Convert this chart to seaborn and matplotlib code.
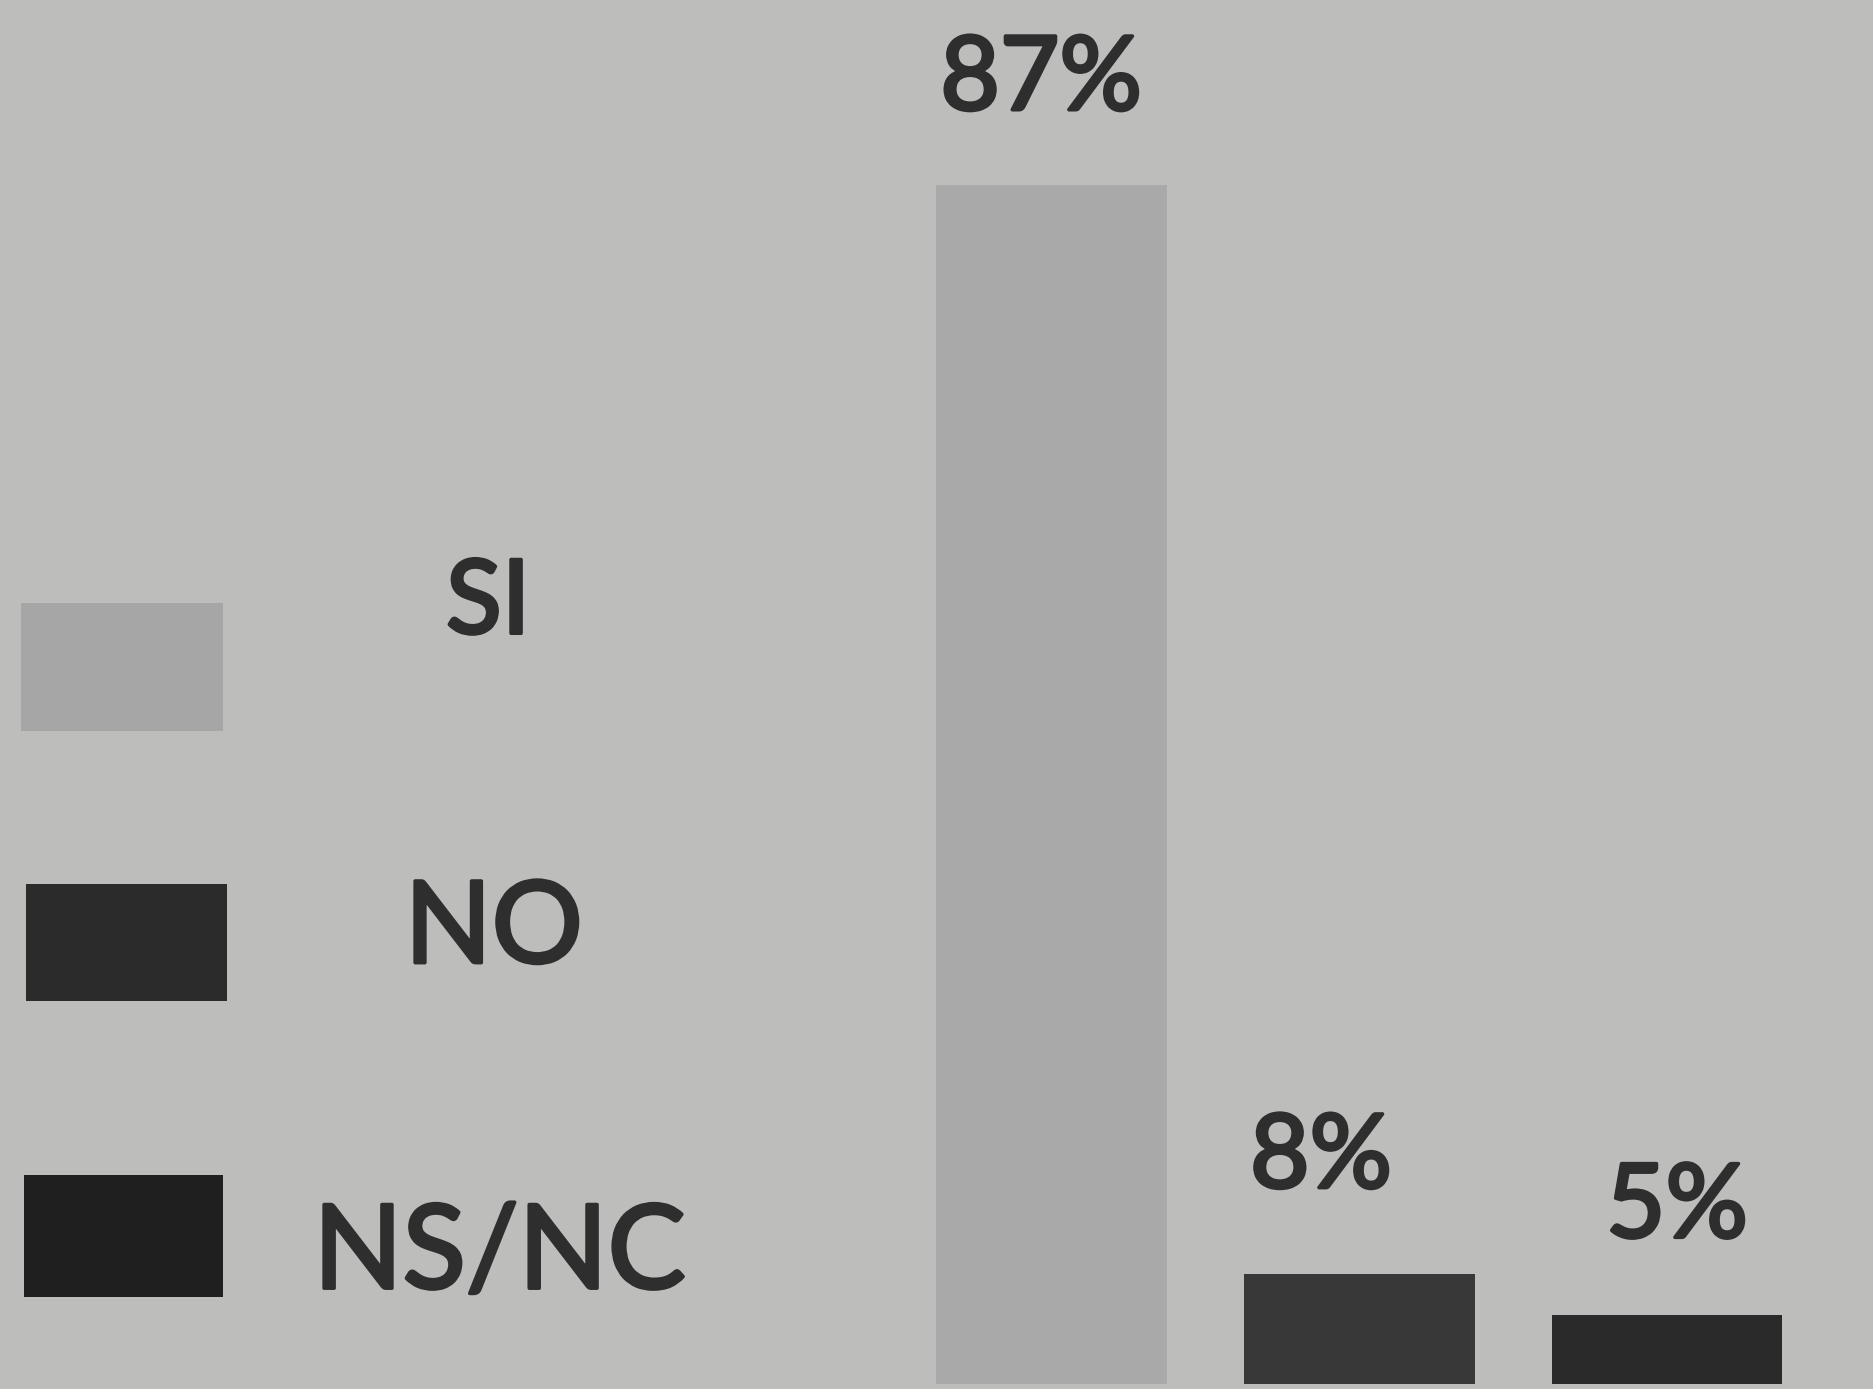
import matplotlib
matplotlib.use("Agg")
import matplotlib.pyplot as plt
import matplotlib.patheffects as pe
import seaborn as sns
import pandas as pd
from matplotlib.patches import Rectangle

categories = ["SI", "NO", "NS/NC"]
values = [87, 8, 5]
labels = ["87%", "8%", "5%"]
colors = ["#a9a9a9", "#383838", "#2a2a2a"]
legend_colors = ["#a6a6a6", "#2b2b2b", "#1f1f1f"]

sns.set_theme(style="white")
plt.rcParams["font.family"] = ["Lato", "DejaVu Sans"]

BG = "#bdbdbb"
TXT = "#2e2e2e"
EFF = [pe.withStroke(linewidth=2.6, foreground=TXT)]

fig = plt.figure(figsize=(18.74, 13.89), dpi=100, facecolor=BG)
ax = fig.add_axes([0.4787, 0.0036, 0.493, 0.9964])
ax.set_facecolor("none")

df = pd.DataFrame({"cat": categories, "val": values})
sns.barplot(data=df, x="cat", y="val", hue="cat", palette=colors,
            width=0.75, legend=False, ax=ax, saturation=1, linewidth=0)
ax.set_xlim(-0.5, 2.5)
ax.set_ylim(0, 100.4)
ax.axis("off")

x_off = [-10, -38, 10]
y_off = [54, 62, 56]
for i, (v, lab) in enumerate(zip(values, labels)):
    ax.annotate(lab, xy=(i, v), xytext=(x_off[i] * 0.72, y_off[i]),
                textcoords="offset points", ha="center", va="baseline",
                fontsize=74, color=TXT, path_effects=EFF)

# legend drawn manually in figure coordinates
patches = [(0.0112, 0.4737, 0.1078, 0.0922),
           (0.0139, 0.2793, 0.1073, 0.0842),
           (0.0128, 0.0662, 0.1062, 0.0878)]
text_pos = [(0.2605, 0.5650), (0.2635, 0.3300), (0.2665, 0.0960)]
sizes = [74, 82, 84]
for cat, col, (x0, y0, w, h), (tx, ty), fs in zip(categories, legend_colors, patches, text_pos, sizes):
    fig.patches.append(Rectangle((x0, y0), w, h, transform=fig.transFigure,
                                 facecolor=col, edgecolor="none"))
    fig.text(tx, ty, cat, ha="center", va="center", fontsize=fs, color=TXT,
             path_effects=EFF)

fig.savefig("out.png", dpi=100, facecolor=BG)
